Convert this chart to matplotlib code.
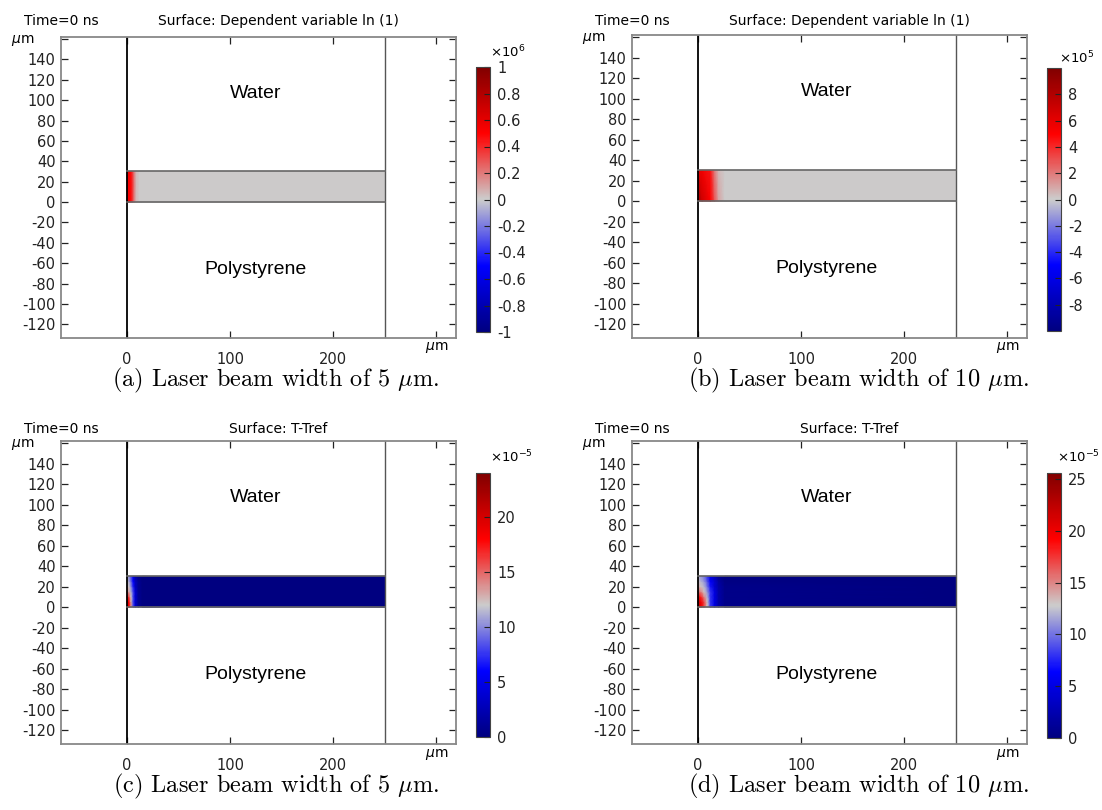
#!/usr/bin/env python3

import numpy as np
import matplotlib
matplotlib.use("Agg")
import matplotlib.pyplot as plt
from matplotlib.colors import LinearSegmentedColormap, Normalize

W, H = 1102, 810

# ---- data ----
# geometry (um)
domain_x = [0, 250]
film_y = [0, 30]
xlim = (-64, 319)
ylim = (-133.5, 162)
yticks = list(range(-120, 161, 20))
xticks = [0, 100, 200, 300]

# (a) In, beam width 5 um  (x 1e6)
a_x = [0, 3, 5, 7, 9, 12, 250]
a_y = [0, 30]
a_val = [[0.55, 0.5, 0.4, 0.2, 0.05, 0.0, 0.0],
         [0.55, 0.5, 0.4, 0.2, 0.05, 0.0, 0.0]]

# (b) In, beam width 10 um  (x 1e5)
b_x = [0, 4, 12, 16, 20, 26, 250]
b_y = [0, 30]
b_val = [[8.5, 7.0, 5.0, 3.0, 1.0, 0.0, 0.0],
         [6.0, 5.5, 4.5, 2.0, 0.5, 0.0, 0.0]]

# (c) T-Tref, beam width 5 um  (x 1e-5)
c_x = [0, 2, 4, 6, 8, 11, 15, 250]
c_y = [0, 5, 10, 15, 20, 25, 30]
c_val = [[20, 18, 14, 8, 4, 1, 0, 0],
         [20, 18, 13, 8, 4, 1, 0, 0],
         [18, 16, 12, 8, 4, 1, 0, 0],
         [15, 13, 11, 8, 4, 1, 0, 0],
         [13, 12, 10, 7, 3, 1, 0, 0],
         [12, 11, 9, 6, 3, 1, 0, 0],
         [11, 10, 8, 5, 2, 0.5, 0, 0]]

# (d) T-Tref, beam width 10 um  (x 1e-5)
d_x = [0, 3, 6, 9, 12, 16, 20, 26, 250]
d_y = [0, 5, 10, 15, 20, 25, 30]
d_val = [[22, 20, 17, 13, 8, 5, 2, 0.5, 0],
         [21, 20, 17, 13, 8, 5, 2, 0.5, 0],
         [19, 18, 15, 12, 8, 5, 2, 0.5, 0],
         [16, 15, 13, 11, 8, 5, 2, 0.5, 0],
         [14, 13, 12, 10, 7, 4, 2, 0.5, 0],
         [13, 12, 11, 9, 6, 4, 1.5, 0.3, 0],
         [12, 11, 10, 8, 5, 3, 1, 0.2, 0]]

# colorbar ranges / ticks
a_lim = (-1, 1)
a_ticks = [1, 0.8, 0.6, 0.4, 0.2, 0, -0.2, -0.4, -0.6, -0.8, -1]
b_lim = (-10, 10)
b_ticks = [8, 6, 4, 2, 0, -2, -4, -6, -8]
c_lim = (0, 24)
c_ticks = [20, 15, 10, 5, 0]
d_lim = (0, 25.6)
d_ticks = [25, 20, 15, 10, 5, 0]

titles = ["Surface: Dependent variable ln (1)", "Surface: Dependent variable ln (1)",
          "Surface: T-Tref", "Surface: T-Tref"]
multipliers = [r"$\times10^{6}$", r"$\times10^{5}$", r"$\times10^{-5}$", r"$\times10^{-5}$"]
captions = [r"(a) Laser beam width of 5 $\mu$m.", r"(b) Laser beam width of 10 $\mu$m.",
            r"(c) Laser beam width of 5 $\mu$m.", r"(d) Laser beam width of 10 $\mu$m."]

# COMSOL "WaveLight"-like map
wave = LinearSegmentedColormap.from_list(
    "wavelight",
    [(0.0, (0.0, 0.0, 0.5)), (0.25, (0.0, 0.0, 1.0)), (0.5, (0.8, 0.8, 0.8)),
     (0.75, (1.0, 0.0, 0.0)), (1.0, (0.5, 0.0, 0.0))])

plt.rcParams['font.family'] = 'DejaVu Sans'
plt.rcParams['mathtext.fontset'] = 'dejavusans'

fig = plt.figure(figsize=(W / 100, H / 100), dpi=100)


def box(l, t, r, b):
    return [l / W, 1 - b / H, (r - l) / W, (b - t) / H]


def ftext(x, y, s, **kw):
    fig.text(x / W, 1 - y / H, s, **kw)


panels = [
    dict(ax=(61, 37, 456, 338), cb=(476, 67, 490, 332), mult=(490, 52), row_t=21, cap=(276, 380),
         x=a_x, y=a_y, v=a_val, lim=a_lim, ticks=a_ticks),
    dict(ax=(632, 35, 1027, 338), cb=(1047, 68, 1061, 331), mult=(1059, 58), row_t=21, cap=(858, 380),
         x=b_x, y=b_y, v=b_val, lim=b_lim, ticks=b_ticks),
    dict(ax=(61, 441, 456, 744), cb=(476, 473, 490, 737), mult=(490, 457), row_t=429, cap=(276, 786),
         x=c_x, y=c_y, v=c_val, lim=c_lim, ticks=c_ticks),
    dict(ax=(632, 441, 1027, 744), cb=(1047, 473, 1061, 738), mult=(1057, 457), row_t=429, cap=(858, 786),
         x=d_x, y=d_y, v=d_val, lim=d_lim, ticks=d_ticks),
]

for i, p in enumerate(panels):
    l, t, r, b = p["ax"]
    ax = fig.add_axes(box(l, t, r, b))
    norm = Normalize(*p["lim"])
    X, Y = np.meshgrid(p["x"], p["y"])
    mesh = ax.pcolormesh(X, Y, np.array(p["v"]), cmap=wave, norm=norm, shading="gouraud")

    # geometry boundaries
    ax.axvline(domain_x[0], color="black", lw=1.3)
    ax.axvline(domain_x[1], color="#555555", lw=1.0)
    for yy in film_y:
        ax.plot(domain_x, [yy, yy], color="#666666", lw=1.2)

    ax.set_xlim(*xlim)
    ax.set_ylim(*ylim)
    ax.set_xticks(xticks, ["0", "100", "200", ""])
    ax.set_yticks(yticks, [("%d" % v if v != 160 else "") for v in yticks])
    ax.tick_params(direction="in", length=5, width=0.9, labelsize=10.5, pad=4,
                   top=True, right=True, colors="#222222")
    ax.tick_params(axis="x", pad=10)
    for s in ax.spines.values():
        s.set_color("#888888")
        s.set_linewidth(1.3)

    ax.text(125, 107, "Water", ha="center", va="center", fontsize=14, family="Liberation Sans")
    ax.text(125, -66, "Polystyrene", ha="center", va="center", fontsize=14, family="Liberation Sans")

    # unit labels
    ftext(l - 27, t + 4, r"$\mu$m", ha="right", va="center", fontsize=10)
    ftext(l + 376, b + 10, r"$\mu$m", ha="center", va="center", fontsize=10)

    # titles
    ftext(l - 37, p["row_t"], "Time=0 ns", ha="left", va="center", fontsize=10)
    ftext(l + 217, p["row_t"], titles[i], ha="center", va="center", fontsize=10)

    # colorbar
    cax = fig.add_axes(box(*p["cb"]))
    cb = fig.colorbar(mesh, cax=cax)
    cb.set_ticks(p["ticks"], labels=[("%g" % v) for v in p["ticks"]])
    cax.tick_params(direction="in", length=4, width=0.8, labelsize=10.5, pad=5, colors="#222222")
    cb.outline.set_edgecolor("#444444")
    cb.outline.set_linewidth(0.8)
    ftext(p["mult"][0], p["mult"][1], multipliers[i], ha="left", va="center", fontsize=9.5)

    # caption
    ftext(p["cap"][0], p["cap"][1], captions[i], ha="center", va="center", fontsize=17.5,
          family="cmr10", math_fontfamily="cm")

fig.savefig("out.png", dpi=100)
